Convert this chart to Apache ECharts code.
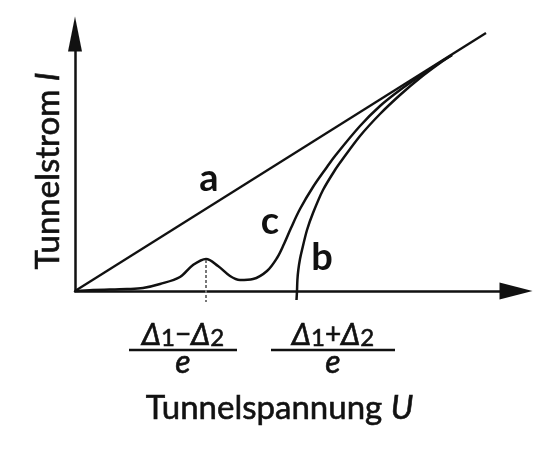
<!DOCTYPE html>
<html><head><meta charset="utf-8">
<script src="https://cdn.jsdelivr.net/npm/echarts@6/dist/echarts.min.js"></script>
<style>html,body{margin:0;padding:0;background:#fff}#c{width:560px;height:454px}</style>
</head><body><div id="c"></div>
<script>
// ---- data (Tunnelspannung U, Tunnelstrom I; arbitrary units) ----
const lineA_U = [0, 41.1];
const lineA_I = [0, 25.8];
const curveB_U = [22.15, 22.2, 22.24, 22.33, 22.5, 22.7, 23.2, 23.8, 24.8, 26.0, 26.7, 28.5, 30.5, 32.5, 34.5, 36.5, 37.7];
const curveB_I = [-0.9, 0, 1.1, 2.1, 3.2, 4.1, 6.1, 7.8, 10.1, 12.1, 13.1, 15.5, 17.7, 19.6, 21.3, 22.8, 23.6];
const curveC_U = [0, 1.8, 5.2, 6.8, 8.5, 10.5, 11.8, 13.1, 14.3, 15.5, 16.5, 17.8, 19.2, 20.2, 20.9, 21.6, 22.5, 23.8, 25.2, 26.0, 28.5, 30.5, 32.5, 34.5, 36.5, 37.7];
const curveC_I = [0, 0.1, 0.2, 0.3, 0.7, 1.4, 2.6, 3.2, 2.5, 1.5, 1.1, 1.2, 2.0, 3.3, 4.7, 6.3, 8.2, 10.4, 12.4, 13.5, 16.5, 18.5, 20.1, 21.5, 22.85, 23.6];
const curveNames = ['a', 'b', 'c'];
const tickValues = [13.1, 22.2];            // (Δ1−Δ2)/e , (Δ1+Δ2)/e
const tickNumerators = ['{d|Δ}{s|1}{o|−}{d|Δ}{s|2}', '{d|Δ}{s|1}{o|+}{d|Δ}{s|2}'];
const tickDenominator = 'e';
const xTitle = 'Tunnelspannung ';
const xTitleVar = 'U';
const yTitle = 'Tunnelstrom ';
const yTitleVar = 'I';

const FONT = 'Lato, "Open Sans", sans-serif';
const INK = '#111';
const zip = (a, b) => a.map((v, i) => [v, b[i]]);
const thick = {textBorderColor: INK, textBorderWidth: 0.6};

const chart = echarts.init(document.getElementById('c'), null, {renderer: 'canvas'});
chart.setOption({
  animation: false,
  backgroundColor: '#fff',
  grid: {left: 75, right: 44, top: 34, bottom: 163, containLabel: false, outerBoundsMode: 'none'},
  xAxis: {
    type: 'value', min: 0, max: 44.1,
    axisLine: {lineStyle: {color: INK, width: 2.5}, symbol: ['none', 'triangle'], symbolSize: [17, 33]},
    axisTick: {show: false}, axisLabel: {show: false}, splitLine: {show: false},
    name: xTitle + '{i|' + xTitleVar + '}', nameLocation: 'middle', nameGap: 101,
    nameTextStyle: Object.assign({fontFamily: FONT, fontSize: 33, color: INK, padding: [0, 32, 0, 0],
      rich: {i: Object.assign({fontFamily: FONT, fontSize: 33, fontStyle: 'italic', color: INK}, thick)}}, thick)
  },
  yAxis: {
    type: 'value', min: 0, max: 25.7,
    axisLine: {lineStyle: {color: INK, width: 2.5}, symbol: ['none', 'triangle'], symbolSize: [14, 35]},
    axisTick: {show: false}, axisLabel: {show: false}, splitLine: {show: false},
    name: yTitle + '{i|' + yTitleVar + '}', nameLocation: 'middle', nameRotate: 90, nameGap: 10,
    nameTextStyle: Object.assign({fontFamily: FONT, fontSize: 33, color: INK, padding: [0, 17, 0, 0],
      rich: {i: Object.assign({fontFamily: FONT, fontSize: 33, fontStyle: 'italic', color: INK}, thick)}}, thick)
  },
  series: [
    {name: curveNames[0], type: 'line', data: zip(lineA_U, lineA_I), showSymbol: false, clip: false,
     lineStyle: {color: INK, width: 2.3}},
    {name: curveNames[1], type: 'line', data: zip(curveB_U, curveB_I), showSymbol: false, clip: false,
     smooth: 0.3, lineStyle: {color: INK, width: 2.5}},
    {name: curveNames[2], type: 'line', data: zip(curveC_U, curveC_I), showSymbol: false, clip: false,
     smooth: 0.35, lineStyle: {color: INK, width: 2.5}},
    {name: 'tick', type: 'line', data: [[tickValues[0], 3.1], [tickValues[0], -1.1]], showSymbol: false, clip: false,
     lineStyle: {color: '#777', width: 2, type: [3, 2]}}
  ]
});

const P = (u, i) => chart.convertToPixel({gridIndex: 0}, [u, i]);
const graphics = [];
const sb = {stroke: INK, lineWidth: 0.6};
// fraction labels under the axis
const fracOffset = [-23, 36];
const fracHalf = [54, 62];
tickValues.forEach((v, k) => {
  const p = P(v, 0);
  const cx = p[0] + fracOffset[k];
  graphics.push({type: 'text', x: cx, y: p[1] + 44, style: Object.assign({
    text: tickNumerators[k], align: 'center', verticalAlign: 'middle', fill: INK,
    rich: {
      d: {fontFamily: FONT, fontSize: 30, fontStyle: 'italic', lineHeight: 30, fill: INK, color: INK},
      s: {fontFamily: FONT, fontSize: 24, lineHeight: 18, verticalAlign: 'bottom', fill: INK, color: INK},
      o: {fontFamily: FONT, fontSize: 28, lineHeight: 30, fill: INK, color: INK}
    }}, sb)});
  graphics.push({type: 'line', shape: {x1: cx - fracHalf[k], y1: p[1] + 59, x2: cx + fracHalf[k], y2: p[1] + 59},
    style: {stroke: INK, lineWidth: 2.5}});
  graphics.push({type: 'text', x: cx, y: p[1] + 72, style: Object.assign({
    text: tickDenominator, align: 'center', verticalAlign: 'middle', fill: INK,
    font: 'italic 32px ' + FONT}, sb)});
});
// curve letters
const letterPos = [[13.4, 11.2], [24.7, 3.3], [19.5, 6.9]];
curveNames.forEach((n, k) => {
  const p = P(letterPos[k][0], letterPos[k][1]);
  graphics.push({type: 'text', x: p[0], y: p[1], style: {
    text: n, align: 'center', verticalAlign: 'middle', fill: INK, font: 'bold 38px ' + FONT}});
});
chart.setOption({graphic: graphics});
</script></body></html>
